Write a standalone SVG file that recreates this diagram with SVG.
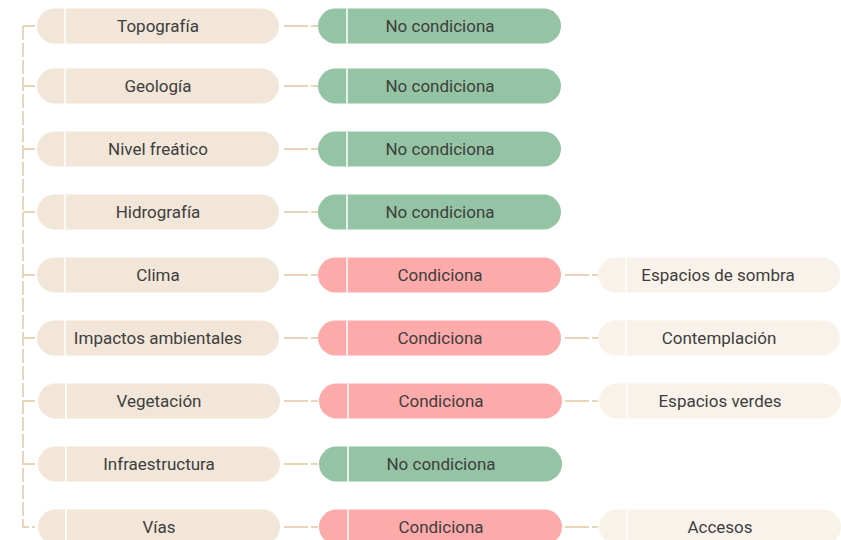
<svg xmlns="http://www.w3.org/2000/svg" width="841" height="540" viewBox="0 0 841 540">
<style>
.t{font-family:Roboto,"Liberation Sans",sans-serif;font-size:17px;fill:#3e3e3e;text-anchor:middle;dominant-baseline:central}
.a{fill:#f1e6d8}
.g{fill:#94c4a3}
.r{fill:#fdaaaa}
.c{fill:#f8f2ea}
.d{stroke:#ffffff;stroke-width:1.5}
.l{stroke:#e8d4b6;stroke-width:2;fill:none}
.dl{stroke-dasharray:24 3}
</style>
<rect width="841" height="540" fill="#ffffff"/>
<g id="connectors">
<path class="l" d="M23 26V527H35" stroke-dasharray="14 3"/>
<path class="l" d="M23 26H35M23 86H35M23 149H35M23 212H35M23 275H35M23 338H35M23 401H35M23 464H35"/>
<path class="l dl" d="M284 26H318M284 86H318M284 149H318M284 212H318M284 275H318M284 338H318M284 401H318M284 464H318M284 527H318"/>
<path class="l dl" d="M565 275H598M565 338H598M565 401H598M565 527H598"/>
</g>
<g id="n1"><rect class="a" x="37" y="8.5" width="242" height="35" rx="17.5"/><line class="d" x1="65" y1="8.5" x2="65" y2="43.5"/><text class="t" x="158" y="26">Topografía</text></g>
<g id="n2"><rect class="a" x="37" y="68.5" width="242" height="35" rx="17.5"/><line class="d" x1="65" y1="68.5" x2="65" y2="103.5"/><text class="t" x="158" y="86">Geología</text></g>
<g id="n3"><rect class="a" x="37" y="131.5" width="242" height="35" rx="17.5"/><line class="d" x1="65" y1="131.5" x2="65" y2="166.5"/><text class="t" x="158" y="149">Nivel freático</text></g>
<g id="n4"><rect class="a" x="37" y="194.5" width="242" height="35" rx="17.5"/><line class="d" x1="65" y1="194.5" x2="65" y2="229.5"/><text class="t" x="158" y="212">Hidrografía</text></g>
<g id="n5"><rect class="a" x="37" y="257.5" width="242" height="35" rx="17.5"/><line class="d" x1="65" y1="257.5" x2="65" y2="292.5"/><text class="t" x="158" y="275">Clima</text></g>
<g id="n6"><rect class="a" x="37" y="320.5" width="242" height="35" rx="17.5"/><line class="d" x1="65" y1="320.5" x2="65" y2="355.5"/><text class="t" x="158" y="338">Impactos ambientales</text></g>
<g id="n7"><rect class="a" x="38" y="383.5" width="242" height="35" rx="17.5"/><line class="d" x1="66" y1="383.5" x2="66" y2="418.5"/><text class="t" x="159" y="401">Vegetación</text></g>
<g id="n8"><rect class="a" x="38" y="446.5" width="242" height="35" rx="17.5"/><line class="d" x1="66" y1="446.5" x2="66" y2="481.5"/><text class="t" x="159" y="464">Infraestructura</text></g>
<g id="n9"><rect class="a" x="38" y="509.5" width="242" height="35" rx="17.5"/><line class="d" x1="66" y1="509.5" x2="66" y2="544.5"/><text class="t" x="159" y="527">Vías</text></g>
<g id="m1"><rect class="g" x="318" y="8.5" width="243" height="35" rx="17.5"/><line class="d" x1="347" y1="8.5" x2="347" y2="43.5"/><text class="t" x="440" y="26">No condiciona</text></g>
<g id="m2"><rect class="g" x="318" y="68.5" width="243" height="35" rx="17.5"/><line class="d" x1="347" y1="68.5" x2="347" y2="103.5"/><text class="t" x="440" y="86">No condiciona</text></g>
<g id="m3"><rect class="g" x="318" y="131.5" width="243" height="35" rx="17.5"/><line class="d" x1="347" y1="131.5" x2="347" y2="166.5"/><text class="t" x="440" y="149">No condiciona</text></g>
<g id="m4"><rect class="g" x="318" y="194.5" width="243" height="35" rx="17.5"/><line class="d" x1="347" y1="194.5" x2="347" y2="229.5"/><text class="t" x="440" y="212">No condiciona</text></g>
<g id="m5"><rect class="r" x="318" y="257.5" width="243" height="35" rx="17.5"/><line class="d" x1="347" y1="257.5" x2="347" y2="292.5"/><text class="t" x="440" y="275">Condiciona</text></g>
<g id="m6"><rect class="r" x="318" y="320.5" width="243" height="35" rx="17.5"/><line class="d" x1="347" y1="320.5" x2="347" y2="355.5"/><text class="t" x="440" y="338">Condiciona</text></g>
<g id="m7"><rect class="r" x="319" y="383.5" width="243" height="35" rx="17.5"/><line class="d" x1="348" y1="383.5" x2="348" y2="418.5"/><text class="t" x="441" y="401">Condiciona</text></g>
<g id="m8"><rect class="g" x="319" y="446.5" width="243" height="35" rx="17.5"/><line class="d" x1="348" y1="446.5" x2="348" y2="481.5"/><text class="t" x="441" y="464">No condiciona</text></g>
<g id="m9"><rect class="r" x="319" y="509.5" width="243" height="35" rx="17.5"/><line class="d" x1="348" y1="509.5" x2="348" y2="544.5"/><text class="t" x="441" y="527">Condiciona</text></g>
<g id="r5"><rect class="c" x="598" y="257.5" width="242" height="35" rx="17.5"/><line class="d" x1="626" y1="257.5" x2="626" y2="292.5"/><text class="t" x="718" y="275">Espacios de sombra</text></g>
<g id="r6"><rect class="c" x="598" y="320.5" width="242" height="35" rx="17.5"/><line class="d" x1="626" y1="320.5" x2="626" y2="355.5"/><text class="t" x="719" y="338">Contemplación</text></g>
<g id="r7"><rect class="c" x="599" y="383.5" width="242" height="35" rx="17.5"/><line class="d" x1="627" y1="383.5" x2="627" y2="418.5"/><text class="t" x="720" y="401">Espacios verdes</text></g>
<g id="r9"><rect class="c" x="599" y="509.5" width="242" height="35" rx="17.5"/><line class="d" x1="627" y1="509.5" x2="627" y2="544.5"/><text class="t" x="720" y="527">Accesos</text></g>
</svg>
